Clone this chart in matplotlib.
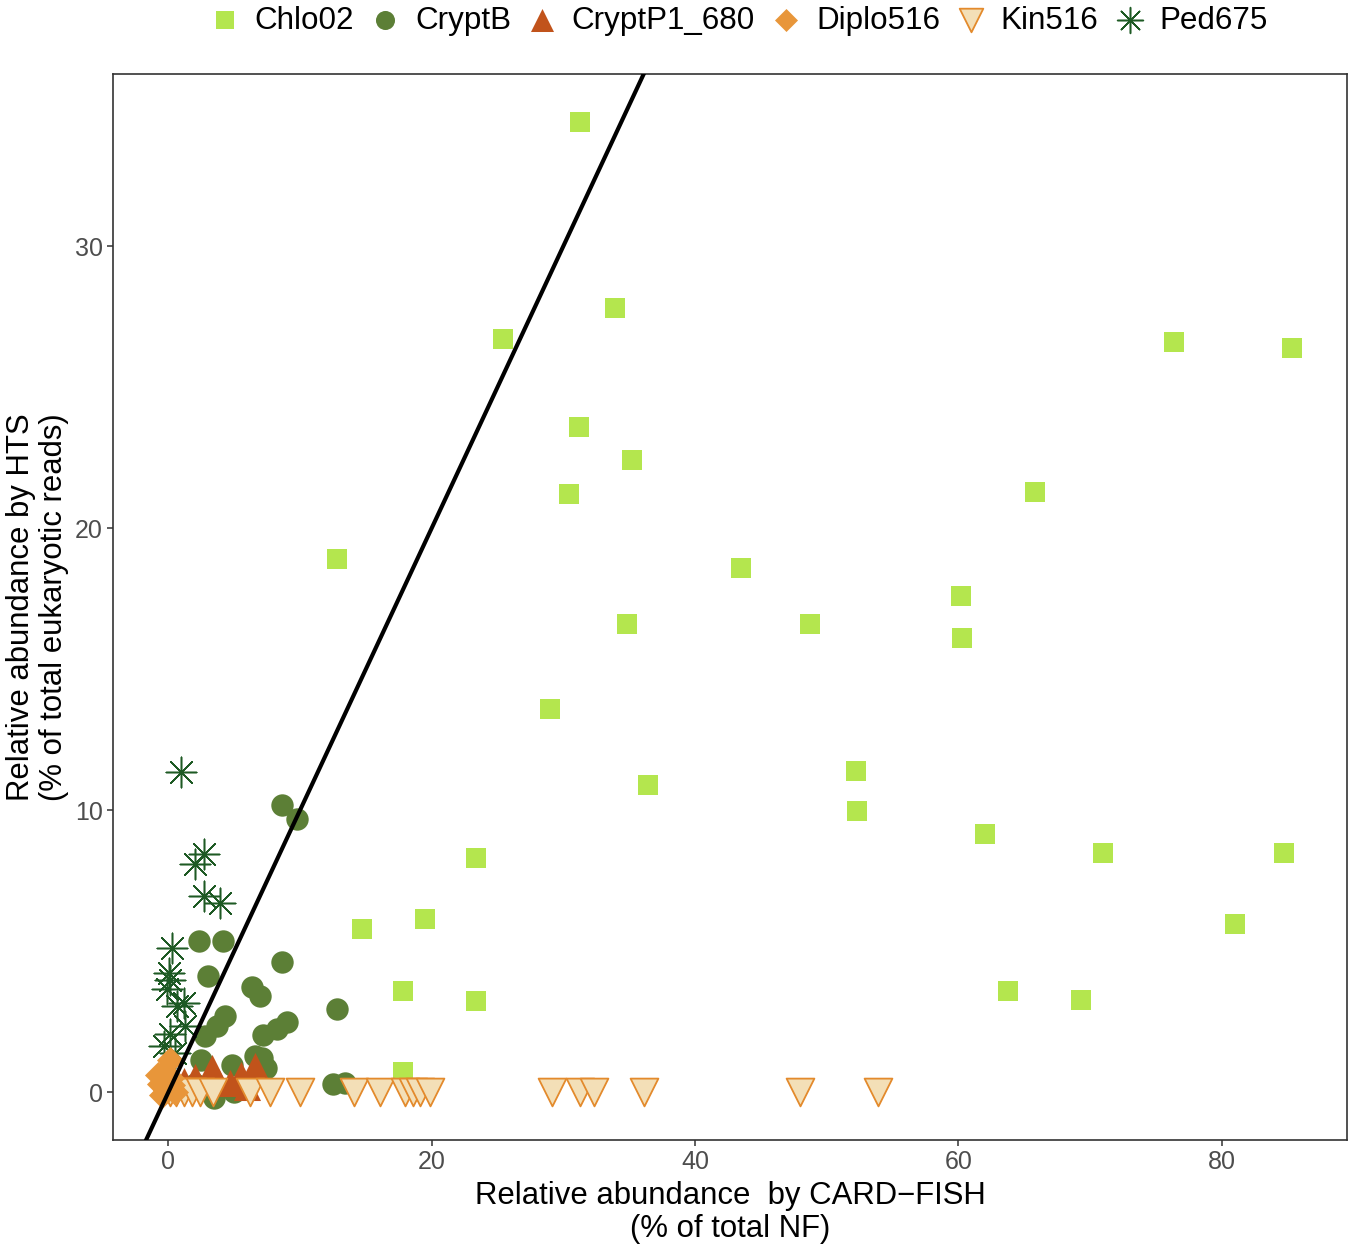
import matplotlib
matplotlib.use("Agg")
from matplotlib import pyplot as plt

plt.rcParams['font.family'] = ['Liberation Sans', 'DejaVu Sans']

# Chlo02
chlo_x = [31.3, 33.9, 25.4, 31.2, 35.2, 30.4, 12.8, 43.5, 60.2, 34.8, 48.7, 60.3,
          29.0, 36.4, 52.2, 52.3, 62.0, 71.0, 84.7, 23.4, 19.5, 14.7, 81.0, 17.8,
          23.4, 63.8, 69.3, 17.8, 76.4, 85.3, 65.8]
chlo_y = [34.4, 27.8, 26.7, 23.6, 22.4, 21.2, 18.9, 18.6, 17.6, 16.6, 16.6, 16.1,
          13.6, 10.9, 11.4, 9.96, 9.15, 8.5, 8.5, 8.3, 6.13, 5.8, 5.96, 3.58,
          3.23, 3.6, 3.26, 0.71, 26.6, 26.4, 21.3]

# CryptB
cryptb_x = [8.6, 9.8, 2.35, 4.15, 3.0, 8.6, 6.35, 7.0, 12.8, 4.33, 3.7, 2.8,
            9.0, 8.25, 7.2, 2.5, 6.6, 4.8, 7.4, 12.5, 13.4, 3.5, 5.0, 2.0, 7.1]
cryptb_y = [10.2, 9.7, 5.37, 5.37, 4.13, 4.62, 3.72, 3.42, 2.94, 2.7, 2.35, 2.0,
            2.48, 2.23, 2.05, 1.15, 1.29, 0.97, 0.86, 0.28, 0.35, -0.2, 0.0, 0.3, 1.22]

# CryptP1_680
cryptp_x = [3.3, 6.6, 2.0, 4.7, 5.5, 1.2, 3.8, 6.0]
cryptp_y = [0.85, 0.95, 0.55, 0.35, 0.6, 0.4, 0.4, 0.2]

# Diplo516
diplo_x = [0.1, -0.4, -0.6, 0.2, -0.2, 0.5, -0.5, 0.3, -0.3, -0.8]
diplo_y = [1.15, 0.7, 0.3, 0.5, 0.1, 0.0, -0.1, 0.25, 0.45, 0.6]

# Kin516
kin_x = [0.1, 0.6, 1.2, 1.8, 2.4, 3.4, 6.2, 7.7, 10.0, 14.1, 16.1, 18.0, 18.6,
         19.1, 19.9, 29.1, 31.3, 32.3, 36.1, 48.0, 53.9]
kin_y = [0.0] * len(kin_x)

# Ped675
ped_x = [0.96, 2.68, 2.05, 2.68, 3.9, 0.28, 0.03, 0.15, -0.1, 1.16, 0.66, 1.3,
         0.15, 0.53, -0.35]
ped_y = [11.34, 8.44, 8.09, 6.97, 6.73, 5.13, 4.24, 4.0, 3.65, 3.18, 3.06, 2.35,
         2.06, 1.41, 1.64]

fig = plt.figure(figsize=(13.5, 12.48), dpi=100)
ax = fig.add_axes([0.0837, 0.0865, 0.914, 0.8542])

ax.scatter(chlo_x, chlo_y, marker='s', s=210, color='#B4E64E', linewidths=0, label='Chlo02', zorder=2)
ax.scatter(cryptb_x, cryptb_y, marker='o', s=260, color='#5C7F36', linewidths=0, label='CryptB', zorder=2)
ax.scatter(cryptp_x, cryptp_y, marker='^', s=380, color='#C1531B', linewidths=0, label='CryptP1_680', zorder=2.5)
ax.scatter(kin_x, kin_y, marker='v', s=400, facecolor='#F3DFB7', edgecolor='#E38A2C',
           linewidths=1.3, label='Kin516', zorder=3)
ax.scatter(diplo_x, diplo_y, marker='D', s=190, color='#E8963A', linewidths=0, label='Diplo516', zorder=3.2)
ax.scatter(ped_x, ped_y, marker=(8, 2, 0), s=480, color='#1E5A24', linewidths=1.1,
           label='Ped675', zorder=3.1)

# 1:1 line
ax.axline((0, 0), slope=1, color='black', linewidth=3, zorder=4)

ax.set_xlim(-4.2, 89.5)
ax.set_ylim(-1.69, 36.1)
ax.set_xticks([0, 20, 40, 60, 80])
ax.set_yticks([0, 10, 20, 30])
ax.tick_params(labelsize=18, labelcolor='#4D4D4D', color='#333333', length=4.5, width=1.1, pad=3)
for sp in ax.spines.values():
    sp.set_color('#333333')
    sp.set_linewidth(1.2)

ax.set_xlabel('Relative abundance  by CARD\u2212FISH\n(% of total NF)', fontsize=22.4,
              linespacing=1.12, labelpad=5)
ax.set_ylabel('Relative abundance by HTS\n(% of total eukaryotic reads)', fontsize=22.4,
              linespacing=1.12, labelpad=4)

# legend in the order of the reference
h, l = ax.get_legend_handles_labels()
order = ['Chlo02', 'CryptB', 'CryptP1_680', 'Diplo516', 'Kin516', 'Ped675']
hd = dict(zip(l, h))
fig.legend([hd[k] for k in order], order, loc='center', bbox_to_anchor=(0.547, 0.9835),
           ncol=6, frameon=False, fontsize=22.6, handlelength=1.0, handletextpad=0.45,
           columnspacing=0.49, markerscale=0.85, borderpad=0)

plt.savefig('out.png', dpi=100)
